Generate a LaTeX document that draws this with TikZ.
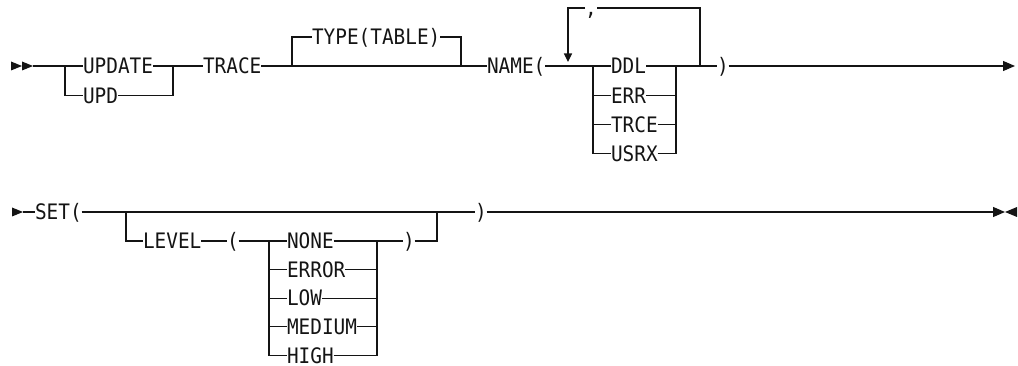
\documentclass[tikz,border=0pt]{standalone}
\usepackage{fontspec}
\newfontfamily\railfont[FakeStretch=0.91]{DejaVu Sans Mono}
\usetikzlibrary{arrows.meta,positioning,calc}
\definecolor{rail}{RGB}{20,20,20}
\tikzset{kw/.style={anchor=west,inner sep=0pt,outer sep=0pt,text height=15.5pt,text depth=0pt,
    font=\railfont\fontsize{21.3}{24}\selectfont,text=rail},
  track/.style={line width=1.2pt,draw=rail},
  endtip/.style={track,-{Triangle[length=12pt,width=10pt]}},
  backtip/.style={track,-{Triangle[length=8.5pt,width=8pt]}},
  headr/.pic={\fill[rail] (0,-4.5)--(11,0)--(0,4.5)--cycle;},
  headl/.pic={\fill[rail] (0,-5)--(-12,0)--(0,5)--cycle;}}

\begin{document}
\begin{tikzpicture}[x=1pt,y=-1pt]
\useasboundingbox (0,0) rectangle (1018,366);
% first line
\pic at (11,66) {headr};
\pic at (22,66) {headr};
\coordinate (start1) at (33,66);
\node[kw] (update) at (83,66) {UPDATE};
\node[kw] (upd) at (83,95.3) {UPD};
\node[kw] (trace) at (203,66) {TRACE};
\node[kw] (type) at (312,37) {TYPE(TABLE)};
\node[kw] (name) at (487,66) {NAME(};
\node[kw] (comma) at (585,8) {,};
\foreach \n [count=\i from 0] in {DDL,ERR,TRCE,USRX}
  \node[kw] (\n) at (611,66+29.3*\i) {\n};
\node[kw] (close1) at (717,66) {)};
\coordinate (ja) at (65,66);
\coordinate (jb) at (173,66);
\coordinate (jc) at (292,66);
\coordinate (jd) at (461,66);
\coordinate (je) at (593,66);
\coordinate (jf) at (676,66);
\coordinate (jg) at (700,66);
\coordinate (jh) at (568,62);
\coordinate (end1) at (1015,66);
\draw[track] (start1) -- (update.west);
\draw[track] (ja) |- (upd.west);
\draw[track] (upd.east) -| (jb);
\draw[track] (update.east) -- (trace.west);
\draw[track] (trace.east) -- (name.west);
\draw[track] (jc) |- (type.west);
\draw[track] (type.east) -| (jd);
\draw[track] (name.east) -- (DDL.west);
\foreach \n in {ERR,TRCE,USRX}{
  \draw[track] (je) |- (\n.west);
  \draw[track] (\n.east) -| (jf);
}
\draw[track] (DDL.east) -- (close1.west);
\draw[track] (jg) |- (comma.east);
\draw[backtip] (comma.west) -| (jh);
\draw[endtip] (close1.east) -- (end1);
% second line
\pic at (12,212) {headr};
\coordinate (start2) at (23,212);
\node[kw] (set) at (35,212) {SET(};
\node[kw] (level) at (143,241) {LEVEL};
\node[kw] (open2) at (227,241) {(};
\foreach \n [count=\i from 0] in {NONE,ERROR,LOW,MEDIUM,HIGH}
  \node[kw] (\n) at (287,241+28.6*\i) {\n};
\node[kw] (close2) at (403,241) {)};
\node[kw] (close3) at (475,212) {)};
\coordinate (ji) at (126,212);
\coordinate (jj) at (437,212);
\coordinate (jk) at (269,241);
\coordinate (jl) at (377,241);
\coordinate (bold) at (513,212);
\coordinate (end2) at (1005,212);
\draw[track] (start2) -- (set.west);
\draw[track] (set.east) -- (close3.west);
\draw[track] (ji) |- (level.west);
\draw[track] (level.east) -- (open2.west);
\draw[track] (open2.east) -- (NONE.west);
\foreach \n in {ERROR,LOW,MEDIUM,HIGH}{
  \draw[track] (jk) |- (\n.west);
  \draw[track] (\n.east) -| (jl);
}
\draw[track] (NONE.east) -- (close2.west);
\draw[track] (close2.east) -| (jj);
\draw[track,line width=1.8pt] (close3.east) -- (bold);
\draw[endtip] (bold) -- (end2);
\pic at (1017,212) {headl};
\end{tikzpicture}
\end{document}
